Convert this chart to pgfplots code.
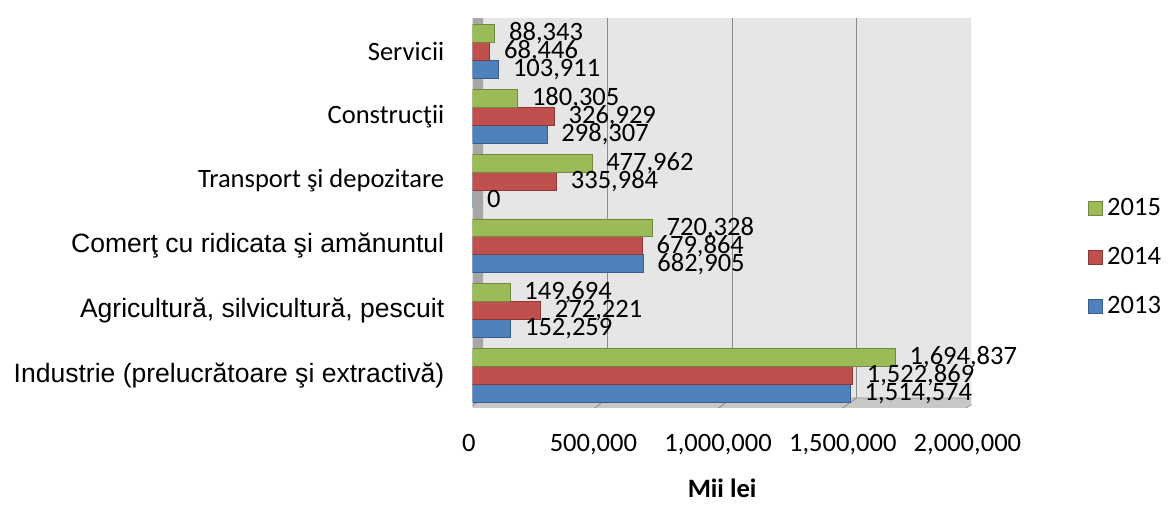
\documentclass[border=0pt]{standalone}
\usepackage{pgfplots}
\pgfplotsset{compat=1.18}
\usepackage{fontspec}
\setmainfont{Carlito}
\newfontfamily\arial{Liberation Sans}
\definecolor{c13}{HTML}{4F81BD}
\definecolor{c13d}{HTML}{385D8A}
\definecolor{c14}{HTML}{C0504D}
\definecolor{c14d}{HTML}{8C3836}
\definecolor{c15}{HTML}{9BBB59}
\definecolor{c15d}{HTML}{71893F}
\definecolor{wallc}{HTML}{E6E6E6}
\definecolor{leftc}{HTML}{A6A6A6}
\definecolor{floorc}{HTML}{C8C8C8}
\definecolor{edgec}{HTML}{9A9A9A}
\definecolor{gridc}{HTML}{8C8C8C}
\newcommand\fs{\fontsize{13.3}{15}\selectfont}
\begin{document}
\begin{tikzpicture}
\begin{axis}[
  at={(0,0)}, anchor=south west,
  scale only axis, width=250pt, height=195pt,
  xbar=0pt, bar width=9pt,
  xmin=0, xmax=2000000, ymin=-0.5, ymax=5.5,
  ytick={0,1,2,3,4,5},
  yticklabels={{\arial Industrie (prelucrătoare şi extractivă)},{\arial Agricultură, silvicultură, pescuit},{\arial Comerţ cu ridicata şi amănuntul},Transport şi depozitare,Construcţii,Servicii},
  xtick={0,500000,1000000,1500000,2000000},
  scaled x ticks=false,
  xticklabel style={font=\fs, yshift=-9.5pt, xshift=-2pt, /pgf/number format/.cd, fixed, precision=0, 1000 sep={,}, assume math mode=true},
  yticklabel style={font=\fs, xshift=-6.5pt},
  axis line style={draw=none},
  tick style={draw=none},
  xlabel={Mii lei},
  xlabel style={font=\fs\bfseries, at={(axis description cs:0.5,0)}, anchor=north, yshift=-32pt},
  point meta=x,
  nodes near coords={\pgfmathprintnumber[fixed,precision=0,1000 sep={,},assume math mode=true]{\pgfplotspointmeta}},
  every node near coord/.append style={font=\fs, anchor=west, xshift=6pt, inner sep=1pt, text=black},
  reverse legend,
  legend image code/.code={\draw[#1] (0pt,-3.5pt) rectangle (7pt,3.5pt);},
  legend style={at={(1.222,0.387)}, anchor=west, draw=none, fill=none, font=\fs, row sep=10.5pt, legend cell align=left},
]
  \fill[wallc] ([shift={(5pt,5pt)}]axis cs:0,-0.5) rectangle ([shift={(5pt,5pt)}]axis cs:2000000,5.5);
  \draw[gridc] ([shift={(5pt,5pt)}]axis cs:500000,-0.5) -- ([shift={(5pt,5pt)}]axis cs:500000,5.5);
  \draw[gridc] ([shift={(5pt,5pt)}]axis cs:1000000,-0.5) -- ([shift={(5pt,5pt)}]axis cs:1000000,5.5);
  \draw[gridc] ([shift={(5pt,5pt)}]axis cs:1500000,-0.5) -- ([shift={(5pt,5pt)}]axis cs:1500000,5.5);
  \draw[gridc] ([shift={(5pt,5pt)}]axis cs:2000000,-0.5) -- ([shift={(5pt,5pt)}]axis cs:2000000,5.5);
  \draw[edgec] ([shift={(5pt,5pt)}]axis cs:0,5.5) -- ([shift={(5pt,5pt)}]axis cs:2000000,5.5);
  \fill[leftc, draw=edgec] ([shift={(-2.5pt,-1pt)}]axis cs:0,-0.5) -- ([shift={(-2.5pt,0pt)}]axis cs:0,5.5) -- ([shift={(5pt,5pt)}]axis cs:0,5.5) -- ([shift={(5pt,5pt)}]axis cs:0,-0.5) -- cycle;
  \fill[floorc, draw=edgec] ([shift={(-2.5pt,-1pt)}]axis cs:0,-0.5) -- ([shift={(-4pt,-1pt)}]axis cs:2000000,-0.5) -- ([shift={(5pt,5pt)}]axis cs:2000000,-0.5) -- ([shift={(5pt,5pt)}]axis cs:0,-0.5) -- cycle;
  \draw[gridc] ([shift={(-2.5pt,-1pt)}]axis cs:500000,-0.5) -- ([shift={(5pt,5pt)}]axis cs:500000,-0.5);
  \draw[gridc] ([shift={(-3pt,-1pt)}]axis cs:1000000,-0.5) -- ([shift={(5pt,5pt)}]axis cs:1000000,-0.5);
  \draw[gridc] ([shift={(-3.5pt,-1pt)}]axis cs:1500000,-0.5) -- ([shift={(5pt,5pt)}]axis cs:1500000,-0.5);
\addplot[fill=c13, draw=c13d] coordinates {(1514574,0) (152259,1) (682905,2) (0,3) (298307,4) (103911,5)};
\addlegendentry{2013}
\addplot[fill=c14, draw=c14d] coordinates {(1522869,0) (272221,1) (679864,2) (335984,3) (326929,4) (68446,5)};
\addlegendentry{2014}
\addplot[fill=c15, draw=c15d] coordinates {(1694837,0) (149694,1) (720328,2) (477962,3) (180305,4) (88343,5)};
\addlegendentry{2015}
\end{axis}
\path (-237pt,-46.5pt) rectangle (348.5pt,204.5pt);
\end{tikzpicture}
\end{document}
